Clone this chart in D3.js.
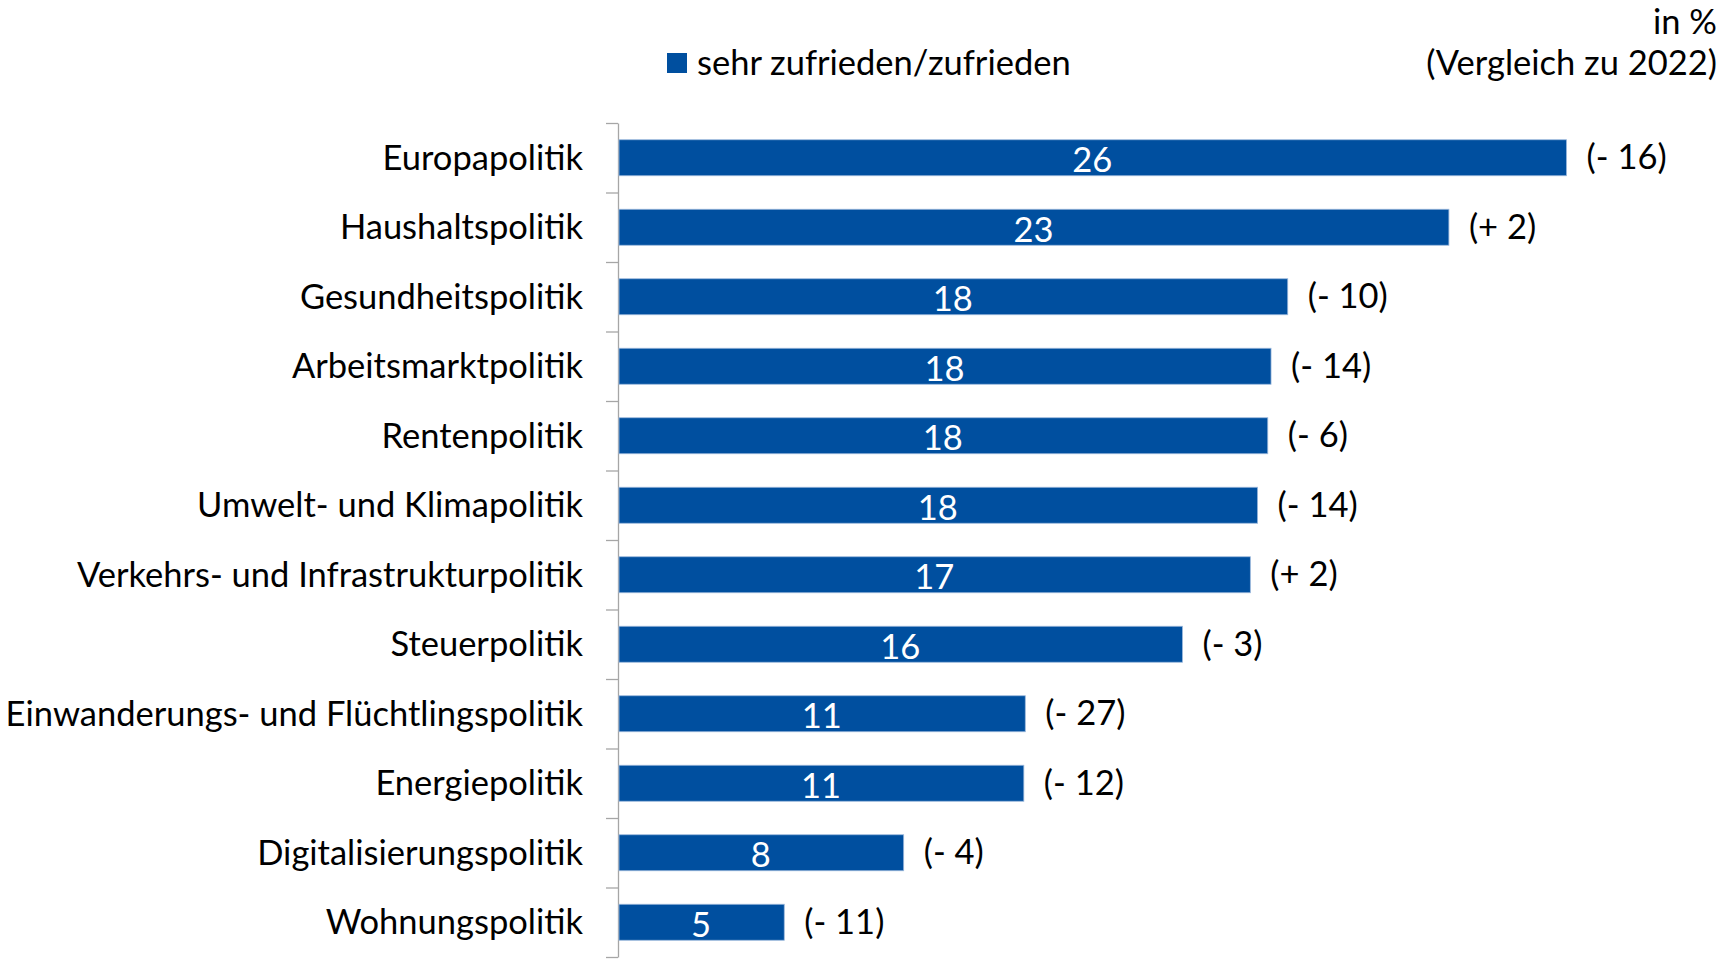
<!DOCTYPE html>
<html>
<head>
<meta charset="utf-8">
<script src="https://cdn.jsdelivr.net/npm/d3@7"></script>
<style>
  body { margin: 0; background: #fff; }
  text { font-family: Lato, "Open Sans", sans-serif; }
</style>
</head>
<body>
<script>
// data (values slightly above/below the shown integers)
var categories = ["Europapolitik", "Haushaltspolitik", "Gesundheitspolitik", "Arbeitsmarktpolitik",
  "Rentenpolitik", "Umwelt- und Klimapolitik", "Verkehrs- und Infrastrukturpolitik", "Steuerpolitik",
  "Einwanderungs- und Flüchtlingspolitik", "Energiepolitik", "Digitalisierungspolitik", "Wohnungspolitik"];
var values = [26.13, 22.89, 18.45, 17.99, 17.9, 17.62, 17.42, 15.55, 11.22, 11.18, 7.87, 4.58];
var changes = [-16, 2, -10, -14, -6, -14, 2, -3, -27, -12, -4, -11];
var seriesName = "sehr zufrieden/zufrieden";

var W = 1721, H = 962;
var barColor = "#004f9f";
var fs = 34.5;

var svg = d3.select("body").append("svg")
  .attr("width", W)
  .attr("height", H);

var x = d3.scaleLinear().domain([0, 30]).range([618, 618 + 30 * 36.3]);
var y = d3.scaleBand().domain(categories).range([123, 957]).padding(0);
var bounds = d3.scaleLinear().domain([0, categories.length]).range([123, 957]);
var barH = 36;

// axis with tick marks between categories
svg.append("g")
  .attr("transform", "translate(618,0)")
  .call(d3.axisLeft(bounds).tickValues(d3.range(0, categories.length + 1)).tickFormat("").tickSize(12).tickSizeOuter(0))
  .call(function(g) {
    g.select(".domain").attr("stroke", "#a6a6a6").attr("stroke-width", 1.3);
    g.selectAll(".tick line").attr("stroke", "#a6a6a6").attr("stroke-width", 1.3);
  });

var rows = svg.selectAll("g.row")
  .data(categories)
  .enter()
  .append("g")
  .attr("class", "row");

rows.append("rect")
  .attr("x", x(0) + 1)
  .attr("y", function(d) { return y(d) + (y.bandwidth() - barH) / 2; })
  .attr("width", function(d, i) { return x(values[i]) - x(0) - 1; })
  .attr("height", barH)
  .attr("fill", barColor)
  .attr("stroke", "#9bb8dc")
  .attr("stroke-width", 0.8);

rows.append("text")
  .attr("x", 583)
  .attr("y", function(d) { return y(d) + y.bandwidth() / 2 + 12; })
  .attr("text-anchor", "end")
  .attr("font-size", fs)
  .attr("fill", "#000")
  .text(function(d) { return d; });

rows.append("text")
  .attr("x", function(d, i) { return (x(0) + x(values[i])) / 2; })
  .attr("y", function(d) { return y(d) + y.bandwidth() / 2 + 14.5; })
  .attr("text-anchor", "middle")
  .attr("font-size", fs)
  .attr("fill", "#fff")
  .text(function(d, i) { return d3.format(".0f")(values[i]); });

rows.append("text")
  .attr("x", function(d, i) { return x(values[i]) + 20; })
  .attr("y", function(d) { return y(d) + y.bandwidth() / 2 + 11.5; })
  .attr("font-size", fs)
  .attr("fill", "#000")
  .text(function(d, i) {
    var c = changes[i];
    return "(" + (c < 0 ? "- " : "+ ") + Math.abs(c) + ")";
  });

// legend
svg.append("rect")
  .attr("x", 667).attr("y", 53)
  .attr("width", 20).attr("height", 20)
  .attr("fill", barColor);
svg.append("text")
  .attr("x", 697).attr("y", 75)
  .attr("font-size", fs)
  .text(seriesName);

svg.append("text")
  .attr("x", 1717).attr("y", 34)
  .attr("text-anchor", "end")
  .attr("font-size", fs)
  .text("in %");
svg.append("text")
  .attr("x", 1717).attr("y", 75)
  .attr("text-anchor", "end")
  .attr("font-size", fs)
  .text("(Vergleich zu 2022)");
</script>
</body>
</html>
